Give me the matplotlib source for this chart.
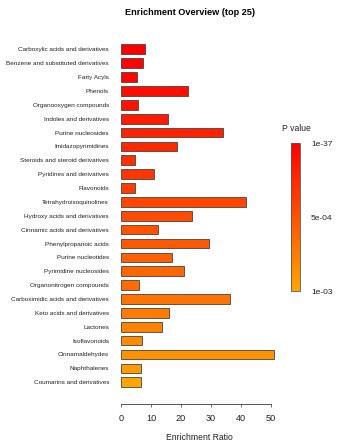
import matplotlib
matplotlib.use("Agg")
import matplotlib.pyplot as plt
from matplotlib.colors import LinearSegmentedColormap, Normalize
from matplotlib.cm import ScalarMappable

# Datos (de arriba hacia abajo)
categories = [
    "Carboxylic acids and derivatives", "Benzene and substituted derivatives",
    "Fatty Acyls", "Phenols", "Organooxygen compounds", "Indoles and derivatives",
    "Purine nucleosides", "Imidazopyrimidines", "Steroids and steroid derivatives",
    "Pyridines and derivatives", "Flavonoids", "Tetrahydroisoquinolines",
    "Hydroxy acids and derivatives", "Cinnamic acids and derivatives",
    "Phenylpropanoic acids", "Purine nucleotides", "Pyrimidine nucleosides",
    "Organonitrogen compounds", "Carboximidic acids and derivatives",
    "Keto acids and derivatives", "Lactones", "Isoflavonoids",
    "Cinnamaldehydes", "Naphthalenes", "Coumarins and derivatives",
]
enrichment = [8.0, 7.2, 5.3, 22.2, 5.8, 15.6, 34.1, 18.6, 4.6, 11.0, 4.7, 41.7,
              23.8, 12.2, 29.4, 17.1, 21.1, 6.0, 36.2, 16.1, 13.6, 7.0, 51.0, 6.8, 6.8]
p_values = [1e-37, 2e-5, 4e-5, 8e-5, 1.2e-4, 1.6e-4, 2.0e-4, 2.4e-4, 2.9e-4, 3.3e-4,
            3.7e-4, 4.2e-4, 4.6e-4, 5.0e-4, 5.4e-4, 5.8e-4, 6.2e-4, 6.6e-4, 7.0e-4,
            7.5e-4, 7.9e-4, 8.3e-4, 8.8e-4, 9.4e-4, 1.0e-3]
x_ticks = [0, 10, 20, 30, 40, 50]
cbar_ticks = [1e-37, 5e-4, 1e-3]
cbar_labels = ["1e-37", "5e-04", "1e-03"]

FONT = "Liberation Sans"
cmap = LinearSegmentedColormap.from_list("rojo_naranja", ["#FF0000", "#FFA500"])
norm = Normalize(vmin=1e-37, vmax=1e-3)

fig = plt.figure(figsize=(3.38, 4.48), dpi=100)
ax = fig.add_axes([0.358, 0.0982, 0.4615, 0.8125])

pos = list(range(len(categories)))
ax.barh(pos, enrichment, height=0.7, color=cmap(norm(p_values)),
        edgecolor="#444444", linewidth=0.6)
ax.set_ylim(25.57, -0.67)
ax.set_xlim(0, 52)

# Ejes estilo R
for s in ["top", "right", "left"]:
    ax.spines[s].set_visible(False)
ax.spines["bottom"].set_bounds(0, 50)
ax.spines["bottom"].set_color("#555555")
ax.spines["bottom"].set_linewidth(0.7)

ax.set_yticks(pos)
ax.set_yticklabels(categories, fontsize=4.6, family=FONT, color="#222222")
ax.tick_params(axis="y", length=0, pad=8.6)
ax.set_xticks(x_ticks)
ax.set_xticklabels([str(t) for t in x_ticks], fontsize=6.6, family=FONT, color="#222222")
ax.tick_params(axis="x", length=2.5, width=0.6, color="#555555", pad=5)
ax.set_xlabel("Enrichment Ratio", fontsize=6.2, family=FONT, color="#222222", labelpad=7)

fig.text(0.562, 0.973, "Enrichment Overview (top 25)", ha="center", va="center",
         fontsize=6.6, fontweight="bold", family=FONT)

# Barra de color (1e-37 arriba)
cax = fig.add_axes([0.861, 0.3504, 0.0266, 0.330])
cb = fig.colorbar(ScalarMappable(norm=norm, cmap=cmap), cax=cax)
cb.ax.invert_yaxis()
cb.set_ticks(cbar_ticks)
cb.set_ticklabels(cbar_labels)
cb.ax.tick_params(length=0, pad=8, labelsize=6, labelcolor="#222222")
for t in cb.ax.get_yticklabels():
    t.set_family(FONT)
cb.outline.set_edgecolor("#555555")
cb.outline.set_linewidth(0.6)
fig.text(0.876, 0.714, "P value", ha="center", va="center", fontsize=6.2, family=FONT,
         color="#222222")

fig.savefig("out.png", dpi=100)
